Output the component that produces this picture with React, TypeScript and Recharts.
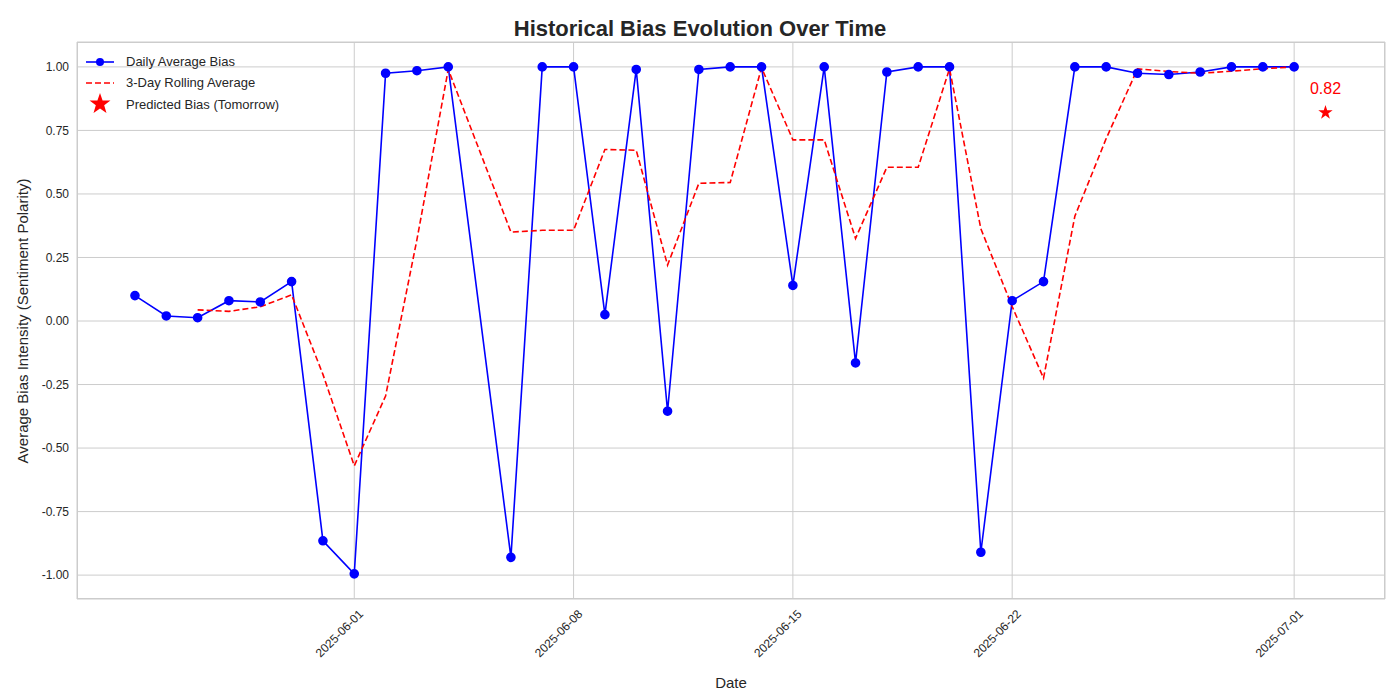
import React from 'react';
import {
  ComposedChart, Line, Scatter, XAxis, YAxis, CartesianGrid, LabelList,
} from 'recharts';

// days counted from 2025-05-25
const days = [0, 1, 2, 3, 4, 5, 6, 7, 8, 9, 10, 12, 13, 14, 15, 16, 17, 18, 19, 20, 21, 22, 23, 24, 25, 26, 27, 28, 29, 30, 31, 32, 33, 34, 35, 36, 37];
const dailyBias = [0.10, 0.02, 0.013, 0.08, 0.075, 0.155, -0.865, -0.995, 0.975, 0.985, 1.0, -0.93, 1.0, 1.0, 0.025, 0.99, -0.355, 0.99, 1.0, 1.0, 0.14, 1.0, -0.165, 0.98, 1.0, 1.0, -0.91, 0.08, 0.155, 1.0, 1.0, 0.975, 0.97, 0.98, 1.0, 1.0, 1.0];
const rollingAvg = [null, null, 0.044, 0.038, 0.056, 0.103, -0.21, -0.57, -0.295, 0.32, 0.99, 0.35, 0.357, 0.357, 0.675, 0.672, 0.22, 0.542, 0.545, 0.997, 0.713, 0.713, 0.325, 0.605, 0.605, 0.993, 0.363, 0.057, -0.225, 0.412, 0.718, 0.992, 0.982, 0.975, 0.983, 0.993, 1.0];
const prediction = [{ day: 38, bias: 0.82 }];
const xTicks = [7, 14, 21, 28, 37];
const xTickLabels: Record<number, string> = { 7: '2025-06-01', 14: '2025-06-08', 21: '2025-06-15', 28: '2025-06-22', 37: '2025-07-01' };
const yTicks = [-1, -0.75, -0.5, -0.25, 0, 0.25, 0.5, 0.75, 1];

const rows = days.map((d, i) => ({ day: d, bias: dailyBias[i], rolling: rollingAvg[i] }));
const font = 'Arial, "Liberation Sans", sans-serif';

const DateTick = (props: any) => {
  const { x, y, payload } = props;
  return (
    <g transform={`translate(${x + 4},${y + 2})`}>
      <text transform="rotate(-45)" textAnchor="end" dy={8} fontSize={12} fill="#262626" fontFamily={font}>
        {xTickLabels[payload.value]}
      </text>
    </g>
  );
};

export default function App() {
  return (
    <div style={{ position: 'relative', width: 1384, height: 692, fontFamily: font, background: '#fff' }}>
      <div style={{ position: 'absolute', top: 8, width: '100%', textAlign: 'center', fontSize: 22, fontWeight: 'bold', color: '#262626' }}>
        Historical Bias Evolution Over Time
      </div>
      <div style={{ position: 'absolute', left: 69, top: 34, width: 1306, height: 555, border: '1px solid #ccc' }} />
      <ComposedChart width={1384} height={692} data={rows} margin={{ top: 34, right: 7, bottom: 0, left: 0 }}>
        <CartesianGrid stroke="#cccccc" />
        <XAxis
          type="number" dataKey="day" domain={[-1.85, 39.9]} ticks={xTicks} tick={<DateTick />}
          axisLine={false} tickLine={false} height={101}
          label={{ value: 'Date', position: 'insideBottom', offset: 12, fontSize: 15, fill: '#262626' }}
        />
        <YAxis
          type="number" domain={[-1.094, 1.098]} ticks={yTicks} width={69}
          tickFormatter={(v: number) => v.toFixed(2)} axisLine={false} tickLine={false}
          tick={{ fontSize: 12, fill: '#262626' }}
        />
        <text x={14} y={313} transform="rotate(-90 14 313)" textAnchor="middle" dominantBaseline="central" fontSize={15} fill="#262626" fontFamily={font}>
          Average Bias Intensity (Sentiment Polarity)
        </text>
        <Line dataKey="bias" stroke="#0000ff" strokeWidth={1.6} dot={{ r: 4, fill: '#0000ff', stroke: '#0000ff' }} isAnimationActive={false} />
        <Line dataKey="rolling" stroke="#ff0000" strokeWidth={1.6} strokeDasharray="6 3" dot={false} connectNulls={false} isAnimationActive={false} />
        <Scatter data={prediction} dataKey="bias" fill="#ff0000" shape="star" size={260} isAnimationActive={false}>
          <LabelList dataKey="bias" position="top" offset={14} fill="#ff0000" fontSize={16} formatter={(v: any) => Number(v).toFixed(2)} />
        </Scatter>
      </ComposedChart>
      <div style={{ position: 'absolute', left: 78, top: 43, fontSize: 13, color: '#262626', lineHeight: '21px' }}>
        <div style={{ display: 'flex', alignItems: 'center' }}>
          <svg width={30} height={12}><line x1={0} y1={6} x2={28} y2={6} stroke="#0000ff" strokeWidth={1.6} /><circle cx={14} cy={6} r={4} fill="#0000ff" /></svg>
          <span style={{ marginLeft: 10 }}>Daily Average Bias</span>
        </div>
        <div style={{ display: 'flex', alignItems: 'center' }}>
          <svg width={30} height={12}><line x1={0} y1={6} x2={28} y2={6} stroke="#ff0000" strokeWidth={1.6} strokeDasharray="6 3" /></svg>
          <span style={{ marginLeft: 10 }}>3-Day Rolling Average</span>
        </div>
        <div style={{ display: 'flex', alignItems: 'center' }}>
          <svg width={30} height={22}><polygon transform="translate(14,11) scale(1.1)" points="0,-10 2.35,-3.24 9.51,-3.09 3.8,1.24 5.88,8.09 0,4 -5.88,8.09 -3.8,1.24 -9.51,-3.09 -2.35,-3.24" fill="#ff0000" /></svg>
          <span style={{ marginLeft: 10 }}>Predicted Bias (Tomorrow)</span>
        </div>
      </div>
    </div>
  );
}
